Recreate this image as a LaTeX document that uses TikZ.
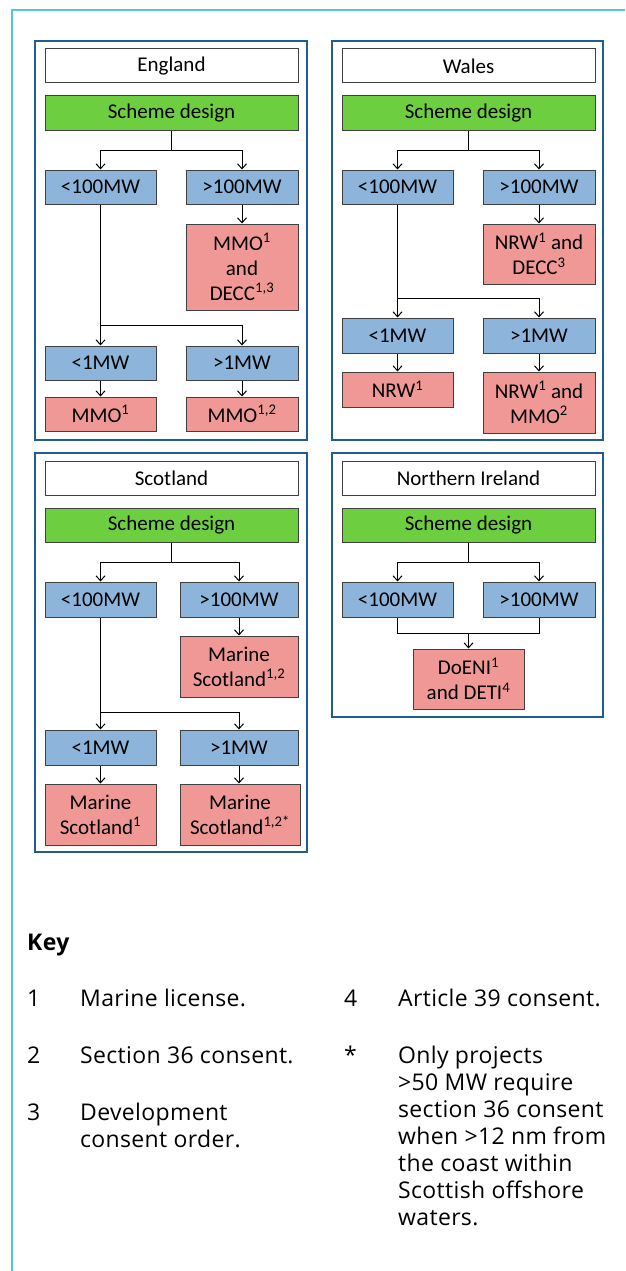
\documentclass[tikz,border=0pt]{standalone}
\usepackage{fontspec}
\setmainfont{Carlito}
\newfontfamily\keyfont[LetterSpace=1.5]{Open Sans}
\usetikzlibrary{arrows.meta}
\definecolor{gcol}{HTML}{6DCF40}
\definecolor{bcol}{HTML}{8DB4DA}
\definecolor{pcol}{HTML}{F09895}
\definecolor{rcol}{HTML}{1F5E8F}
\definecolor{ocol}{HTML}{50C6EA}
\definecolor{boxline}{HTML}{404040}
\newcommand\bx[7]{\node[#6, minimum width={(#4-#2)*1pt}, minimum height={(#5-#3)*1pt}] (#1) at ({(#2+#4)/2},{(#3+#5)/2}) {#7};}
\begin{document}
\begin{tikzpicture}[x=1pt,y=-1pt,
  box/.style={draw=boxline, line width=1pt, inner sep=0pt, align=center, font=\fontsize{21}{25}\selectfont, text=black},
  titlebox/.style={box, fill=white},
  greenbox/.style={box, fill=gcol},
  bluebox/.style={box, fill=bcol},
  pinkbox/.style={box, fill=pcol},
  region/.style={draw=rcol, line width=2.5pt, inner sep=0pt},
  conn/.style={line width=1pt, black},
  arr/.style={conn, -{Straight Barb[length=5pt,width=9pt,line width=1pt]}},
  keytxt/.style={anchor=base west, inner sep=0pt, font=\keyfont\fontsize{23}{27}\selectfont},
  keyhead/.style={keytxt, font=\keyfont\bfseries\fontsize{23}{27}\selectfont}
]
\useasboundingbox (0,0) rectangle (625,1271);
\fill[white] (0,0) rectangle (625,1271);
% outer frame (top and left visible)
\draw[ocol, line width=2pt] (12,1271) -- (12,10) -- (625,10);

% ---------------- England ----------------
\bx{Eframe}{35}{41}{307}{440}{region}{}
\bx{Etitle}{45}{49}{298}{83}{titlebox}{England}
\bx{Esd}{45}{96}{298}{131}{greenbox}{Scheme design}
\bx{Elt100}{45}{170}{156}{204}{bluebox}{<100MW}
\bx{Egt100}{186}{170}{298}{204}{bluebox}{>100MW}
\bx{Emmo}{186}{224}{298}{310}{pinkbox}{MMO\textsuperscript{1}\\and\\DECC\textsuperscript{1,3}}
\bx{Elt1}{45}{346}{156}{380}{bluebox}{<1MW}
\bx{Egt1}{186}{346}{298}{380}{bluebox}{>1MW}
\bx{Emmo1}{45}{397}{156}{431}{pinkbox}{MMO\textsuperscript{1}}
\bx{Emmo12}{186}{397}{298}{431}{pinkbox}{MMO\textsuperscript{1,2}}
\coordinate (Ej1) at (171.5,150);
\coordinate (Ej2) at (100.5,325);
\draw[conn] (Esd.south) -- (Ej1);
\draw[arr] (Ej1) -| (Elt100.north);
\draw[arr] (Ej1) -| (Egt100.north);
\draw[arr] (Egt100.south) -- (Emmo.north);
\draw[arr] (Elt100.south) -- (Elt1.north);
\draw[arr] (Ej2) -| (Egt1.north);
\draw[arr] (Elt1.south) -- (Emmo1.north);
\draw[arr] (Egt1.south) -- (Emmo12.north);

% ---------------- Wales ----------------
\bx{Wframe}{332}{41}{603}{440}{region}{}
\bx{Wtitle}{342}{49}{595}{83}{titlebox}{Wales}
\bx{Wsd}{342}{96}{595}{131}{greenbox}{Scheme design}
\bx{Wlt100}{342}{170}{453}{204}{bluebox}{<100MW}
\bx{Wgt100}{483}{170}{595}{204}{bluebox}{>100MW}
\bx{Wnrwd}{483}{224}{595}{284}{pinkbox}{NRW\textsuperscript{1} and\\DECC\textsuperscript{3}}
\bx{Wlt1}{342}{318}{453}{353}{bluebox}{<1MW}
\bx{Wgt1}{483}{318}{595}{353}{bluebox}{>1MW}
\bx{Wnrw}{342}{372}{453}{407}{pinkbox}{NRW\textsuperscript{1}}
\bx{Wnrwm}{483}{372}{595}{433}{pinkbox}{NRW\textsuperscript{1} and\\MMO\textsuperscript{2}}
\coordinate (Wj1) at (468.5,150);
\coordinate (Wj2) at (397.5,298);
\draw[conn] (Wsd.south) -- (Wj1);
\draw[arr] (Wj1) -| (Wlt100.north);
\draw[arr] (Wj1) -| (Wgt100.north);
\draw[arr] (Wgt100.south) -- (Wnrwd.north);
\draw[arr] (Wlt100.south) -- (Wlt1.north);
\draw[arr] (Wj2) -| (Wgt1.north);
\draw[arr] (Wlt1.south) -- (Wnrw.north);
\draw[arr] (Wgt1.south) -- (Wnrwm.north);

% ---------------- Scotland ----------------
\bx{Sframe}{35}{453}{307}{852}{region}{}
\bx{Stitle}{45}{461}{298}{495}{titlebox}{Scotland}
\bx{Ssd}{45}{508}{298}{542}{greenbox}{Scheme design}
\bx{Slt100}{45}{582}{156}{617}{bluebox}{<100MW}
\bx{Sgt100}{180}{582}{298}{617}{bluebox}{>100MW}
\bx{Sms12}{180}{636}{298}{697}{pinkbox}{Marine\\Scotland\textsuperscript{1,2}}
\bx{Slt1}{45}{730}{156}{765}{bluebox}{<1MW}
\bx{Sgt1}{180}{730}{298}{765}{bluebox}{>1MW}
\bx{Sms1}{45}{784}{156}{845}{pinkbox}{Marine\\Scotland\textsuperscript{1}}
\bx{Sms12s}{180}{784}{300}{845}{pinkbox}{Marine\\Scotland\textsuperscript{1,2*}}
\coordinate (Sj1) at (171.5,562);
\coordinate (Sj2) at (100.5,712);
\draw[conn] (Ssd.south) -- (Sj1);
\draw[arr] (Sj1) -| (Slt100.north);
\draw[arr] (Sj1) -| (Sgt100.north);
\draw[arr] (Sgt100.south) -- (Sms12.north);
\draw[arr] (Slt100.south) -- (Slt1.north);
\draw[arr] (Sj2) -| (Sgt1.north);
\draw[arr] (Slt1.south) -- (Sms1.north);
\draw[arr] (Sgt1.south) -- (Sgt1.south |- Sms12s.north);

% ---------------- Northern Ireland ----------------
\bx{Nframe}{332}{453}{603}{717}{region}{}
\bx{Ntitle}{342}{461}{595}{495}{titlebox}{Northern Ireland}
\bx{Nsd}{342}{508}{595}{542}{greenbox}{Scheme design}
\bx{Nlt100}{342}{582}{453}{617}{bluebox}{<100MW}
\bx{Ngt100}{483}{582}{595}{617}{bluebox}{>100MW}
\bx{Ndoeni}{413}{649}{524}{709}{pinkbox}{DoENI\textsuperscript{1}\\and DETI\textsuperscript{4}}
\coordinate (Nj1) at (468.5,562);
\coordinate (Nj2) at (468.5,633);
\draw[conn] (Nsd.south) -- (Nj1);
\draw[arr] (Nj1) -| (Nlt100.north);
\draw[arr] (Nj1) -| (Ngt100.north);
\draw[conn] (Nlt100.south) |- (Nj2);
\draw[conn] (Ngt100.south) |- (Nj2);
\draw[arr] (Nj2) -- (Ndoeni.north);

% ---------------- Key ----------------
\node[keyhead] (key) at (27,950) {Key};
\node[keytxt] (k1n) at (27,1006) {1};
\node[keytxt] (k1t) at (80,1006) {Marine license.};
\node[keytxt] (k2n) at (27,1063) {2};
\node[keytxt] (k2t) at (80,1063) {Section 36 consent.};
\node[keytxt] (k3n) at (27,1120) {3};
\node[keytxt] (k3t) at (80,1120) {Development};
\node[keytxt] (k3u) at (80,1147) {consent order.};
\node[keytxt] (k4n) at (344,1006) {4};
\node[keytxt] (k4t) at (398,1006) {Article 39 consent.};
\node[keytxt] (ksn) at (344,1063) {*};
\node[keytxt] (ks1) at (398,1063) {Only projects};
\node[keytxt] (ks2) at (398,1090) {>50 MW require};
\node[keytxt] (ks3) at (398,1117) {section 36 consent};
\node[keytxt] (ks4) at (398,1144) {when >12 nm from};
\node[keytxt] (ks5) at (398,1171) {the coast within};
\node[keytxt] (ks6) at (398,1198) {Scottish offshore};
\node[keytxt] (ks7) at (398,1225) {waters.};
\end{tikzpicture}
\end{document}
